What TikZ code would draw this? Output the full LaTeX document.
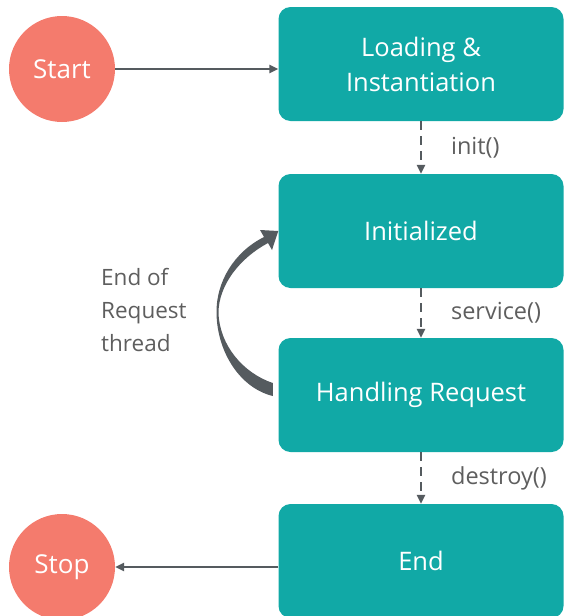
\documentclass[tikz,border=0pt]{standalone}
\usepackage{fontspec}
\setmainfont{Open Sans}
\usetikzlibrary{arrows.meta}
\definecolor{tealbox}{HTML}{11A9A6}
\definecolor{coral}{HTML}{F47B6D}
\definecolor{linegray}{HTML}{555B5F}
\definecolor{textgray}{HTML}{5E5E5E}
\begin{document}
\begin{tikzpicture}[x=1pt, y=-1pt,
  state/.style={fill=tealbox, rounded corners=12pt, minimum width=285pt, minimum height=114pt,
    text=white, align=center, font=\fontsize{25.5}{35}\selectfont},
  terminal/.style={circle, fill=coral, minimum size=106pt, inner sep=0pt, text=white,
    font=\fontsize{26}{30}\selectfont},
  flow/.style={draw=linegray, line width=2.5pt, -{Triangle[length=9pt,width=8pt]}},
  call/.style={flow, line width=2.2pt, dash pattern=on 9pt off 6pt},
  note/.style={text=textgray, inner sep=0pt, align=left, font=\fontsize{22.5}{33}\selectfont}]
  \useasboundingbox (0,0) rectangle (565,616);
  \node(S)[terminal] at (62,69) {Start};
  \node(P)[terminal] at (62,567) {Stop};
  \node(B1)[state] at (421,64) {Loading \&\\Instantiation};
  \node(B2)[state] at (421,231) {Initialized};
  \node(B3)[state] at (421,395) {Handling Request};
  \node(B4)[state] at (421,561) {End};
  \draw[flow] (S.east) -- (S.east -| B1.west);
  \draw[flow] (P -| B4.west) -- (P.east);
  \foreach \a/\b/\m in {B1/B2/init(),B2/B3/service(),B3/B4/destroy()}{%
    \draw[call] (\a) -- (\b) node[note, midway, right=29pt, font=\fontsize{23.5}{30}\selectfont] {\m};
  }
  % loop back from handling to initialized
  \fill[linegray] ([shift={(-5.5,-12)}]B3.west) .. controls (243,373) and (219.5,345) .. (218.5,313)
    .. controls (218.5,285) and (240,258) .. (268,243) -- (272,250) -- (B2.west)
    -- (260,230) -- (264,237) .. controls (234,252) and (216,282) .. (216.5,313)
    .. controls (217,352) and (240,388) .. ([shift={(-5.5,1)}]B3.west) -- cycle;
  \node(R)[note, anchor=west] at (101,310) {End of\\Request\\thread};
\end{tikzpicture}
\end{document}
